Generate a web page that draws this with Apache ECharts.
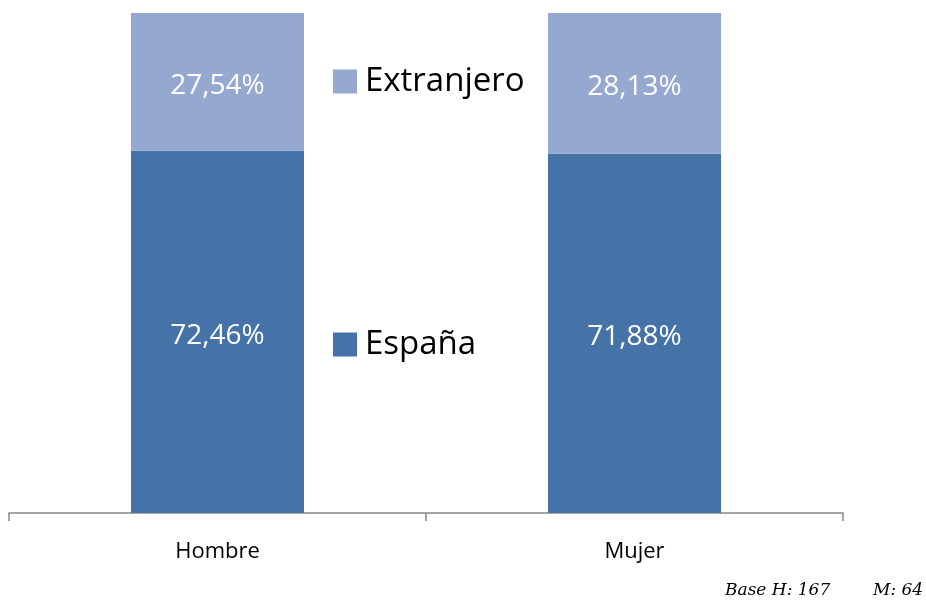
<!DOCTYPE html>
<html lang="es">
<head>
    <meta charset="UTF-8">
    <title>Origen por sexo</title>
    <style>
        html, body {
            margin: 0;
            height: 100%;
            background: #fff;
        }
        #main {
            width: 926px;
            height: 604px;
        }
    </style>
    <script src="https://cdn.jsdelivr.net/npm/echarts@6/dist/echarts.min.js"></script>
</head>
<body>
    <div id="main"></div>
    <script>
        const categories = ['Hombre', 'Mujer']
        const espana = [72.46, 71.88]
        const extranjero = [27.54, 28.13]
        const footer = ['Base H: 167', 'M: 64']

        const chart = echarts.init(document.getElementById('main'))
        const font = 'Open Sans'
        const fmt = p => p.value.toFixed(2).replace('.', ',') + '%'

        const label = {
            show: true,
            position: 'inside',
            offset: [0, 4],
            color: '#fff',
            fontFamily: font,
            fontSize: 28,
            formatter: fmt
        }

        const legendText = { fontFamily: font, fontSize: 33, color: '#000', padding: [0, 0, 0, 3] }

        chart.setOption({
            animation: false,
            grid: { left: 9, right: 83, top: 13, bottom: 91 },
            xAxis: {
                type: 'category',
                data: categories,
                axisLine: { lineStyle: { color: '#868686', width: 1.5 } },
                axisTick: { show: true, length: 8, lineStyle: { color: '#868686', width: 1.5 } },
                axisLabel: { color: '#000', fontFamily: font, fontSize: 22, margin: 28 }
            },
            yAxis: {
                type: 'value',
                min: 0,
                max: 100,
                show: false
            },
            legend: [
                {
                    data: ['Extranjero'],
                    left: 328,
                    top: 60,
                    icon: 'rect',
                    itemWidth: 24,
                    itemHeight: 24,
                    textStyle: legendText,
                    selectedMode: false
                },
                {
                    data: ['España'],
                    left: 328,
                    top: 323,
                    icon: 'rect',
                    itemWidth: 24,
                    itemHeight: 24,
                    textStyle: legendText,
                    selectedMode: false
                }
            ],
            graphic: [
                {
                    type: 'text',
                    left: 725,
                    top: 582,
                    style: { text: footer[0], font: 'italic 17px "DejaVu Serif"', fill: '#000' }
                },
                {
                    type: 'text',
                    left: 873,
                    top: 582,
                    style: { text: footer[1], font: 'italic 17px "DejaVu Serif"', fill: '#000' }
                }
            ],
            series: [
                {
                    name: 'España',
                    type: 'bar',
                    stack: 'total',
                    barWidth: 173,
                    data: espana,
                    itemStyle: { color: '#4572A7' },
                    label: label
                },
                {
                    name: 'Extranjero',
                    type: 'bar',
                    stack: 'total',
                    barWidth: 173,
                    data: extranjero,
                    itemStyle: { color: '#95A9D0' },
                    label: label
                }
            ]
        })
    </script>
</body>
</html>
